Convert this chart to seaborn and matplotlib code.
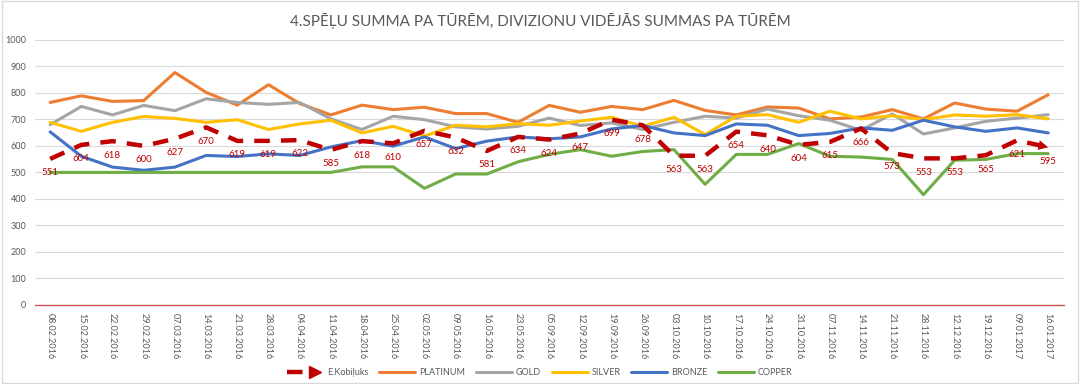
import pandas as pd
import seaborn as sns
import matplotlib.pyplot as plt
from matplotlib.lines import Line2D
from matplotlib.legend_handler import HandlerTuple

dates = ["08.02.2016", "15.02.2016", "22.02.2016", "29.02.2016", "07.03.2016",
         "14.03.2016", "21.03.2016", "28.03.2016", "04.04.2016", "11.04.2016",
         "18.04.2016", "25.04.2016", "02.05.2016", "09.05.2016", "16.05.2016",
         "23.05.2016", "05.09.2016", "12.09.2016", "19.09.2016", "26.09.2016",
         "03.10.2016", "10.10.2016", "17.10.2016", "24.10.2016", "31.10.2016",
         "07.11.2016", "14.11.2016", "21.11.2016", "28.11.2016", "12.12.2016",
         "19.12.2016", "09.01.2017", "16.01.2017"]

kobiluks = [551, 604, 618, 600, 627, 670, 619, 619, 622, 585, 618, 610, 657,
            632, 581, 634, 624, 647, 699, 678, 563, 563, 654, 640, 604, 615,
            666, 573, 553, 553, 565, 621, 595]
platinum = [764, 789, 768, 771, 877, 802, 754, 831, 760, 717, 754, 737, 746,
            722, 722, 689, 753, 727, 749, 737, 772, 734, 717, 747, 743, 702,
            709, 737, 702, 762, 739, 731, 793]
gold = [680, 749, 717, 753, 733, 778, 764, 757, 764, 702, 662, 712, 699,
        672, 664, 674, 705, 677, 687, 662, 689, 712, 705, 739, 714, 697,
        659, 721, 645, 668, 693, 705, 718]
silver = [689, 655, 689, 711, 704, 689, 699, 662, 683, 697, 649, 674, 637,
          678, 672, 684, 678, 694, 708, 674, 708, 643, 712, 718, 689, 731,
          702, 714, 699, 717, 712, 718, 702]
bronze = [653, 561, 520, 508, 520, 564, 560, 570, 564, 596, 620, 599, 634,
          590, 618, 634, 627, 634, 664, 677, 649, 639, 683, 678, 639, 647,
          668, 659, 697, 672, 655, 668, 649]
copper = [500, 500, 500, 500, 500, 500, 500, 500, 500, 500, 521, 521, 440,
          494, 494, 540, 568, 586, 561, 579, 586, 455, 568, 568, 609, 561,
          558, 549, 416, 546, 549, 571, 571]

divisions = {"PLATINUM": platinum, "GOLD": gold, "SILVER": silver,
             "BRONZE": bronze, "COPPER": copper}
colors = {"PLATINUM": "#ED7D31", "GOLD": "#A5A5A5", "SILVER": "#FFC000",
          "BRONZE": "#4472C4", "COPPER": "#70AD47"}
red = "#C00000"
gray_txt = "#595959"
axis_red = "#CC5555"

sns.set_style("white")
plt.rcParams["font.family"] = ["Lato", "DejaVu Sans"]

rows = []
for name, vals in divisions.items():
    for i, v in enumerate(vals):
        rows.append({"idx": i, "value": v, "division": name})
df = pd.DataFrame(rows)
kdf = pd.DataFrame({"idx": range(len(dates)), "value": kobiluks})

fig = plt.figure(figsize=(10.8, 3.84), dpi=100)
ax = fig.add_axes([0.032, 0.206, 0.953, 0.69])

sns.lineplot(data=df, x="idx", y="value", hue="division", palette=colors,
             linewidth=2.2, ax=ax, legend=False)
sns.lineplot(data=kdf, x="idx", y="value", color=red, linewidth=3.2,
             dashes=False, ax=ax, legend=False)
kline = ax.lines[-1]
kline.set_linestyle((0, (3.5, 2.5)))

# arrow head at the end of the E.Kobiļuks line
n = len(kobiluks)
ax.annotate("", xy=(n - 1, kobiluks[-1]),
            xytext=(n - 1.5, kobiluks[-2] + 0.5 * (kobiluks[-1] - kobiluks[-2])),
            arrowprops=dict(arrowstyle="-|>,head_length=0.7,head_width=0.35",
                            color=red, lw=0, shrinkA=0, shrinkB=0))

for i, v in enumerate(kobiluks):
    ax.annotate(str(v), (i, v), xytext=(0, -10), textcoords="offset points",
                ha="center", va="center", fontsize=7, color=red)

ax.set_xlim(-0.5, n - 0.5)
ax.set_ylim(0, 1000)
ax.set_yticks(range(0, 1001, 100))
ax.set_xticks([i - 0.5 for i in range(n + 1)], minor=False)
ax.set_xticklabels([])
ax.set_xticks(range(n), minor=True)
ax.set_xticklabels(dates, minor=True, rotation=-90, fontsize=6.5,
                   color=gray_txt)
ax.tick_params(axis="x", which="major", length=4, color=axis_red, width=0.8,
               direction="out")
ax.tick_params(axis="x", which="minor", length=0, pad=6)
ax.tick_params(axis="y", length=0, labelsize=6.5, labelcolor=gray_txt, pad=6)
ax.grid(axis="y", color="#D9D9D9", linewidth=0.8)
ax.set_axisbelow(True)
for side in ["top", "right", "left"]:
    ax.spines[side].set_visible(False)
ax.spines["bottom"].set_color(axis_red)
ax.spines["bottom"].set_linewidth(1)
ax.set_xlabel("")
ax.set_ylabel("")

fig.text(0.5, 0.945, "4.SPĒĻU SUMMA PA TŪRĒM, DIVIZIONU VIDĒJĀS SUMMAS PA TŪRĒM",
         ha="center", va="center", fontsize=11, color=gray_txt,
         family=["Liberation Sans Narrow", "Lato", "DejaVu Sans"])

# legend
k_dash = Line2D([], [], color=red, linewidth=3.2, linestyle=(0, (3.5, 2.5)))
k_head = Line2D([], [], color=red, marker=">", markersize=8, linestyle="none")
handles = [(k_dash, k_head)]
labels = ["E.Kobiļuks"]
for name in divisions:
    handles.append(Line2D([], [], color=colors[name], linewidth=2.2))
    labels.append(name)
fig.legend(handles, labels, loc="center", bbox_to_anchor=(0.5, 0.03), ncol=6,
           frameon=False, fontsize=6.5, labelcolor=gray_txt, handlelength=4,
           columnspacing=1.2, handletextpad=0.4,
           handler_map={tuple: HandlerTuple(ndivide=2, pad=0.2)})

fig.patches.append(plt.Rectangle((0.002, 0.003), 0.996, 0.994,
                                 transform=fig.transFigure, fill=False,
                                 edgecolor="#D9D9D9", linewidth=1))

fig.savefig("out.png", dpi=100)
